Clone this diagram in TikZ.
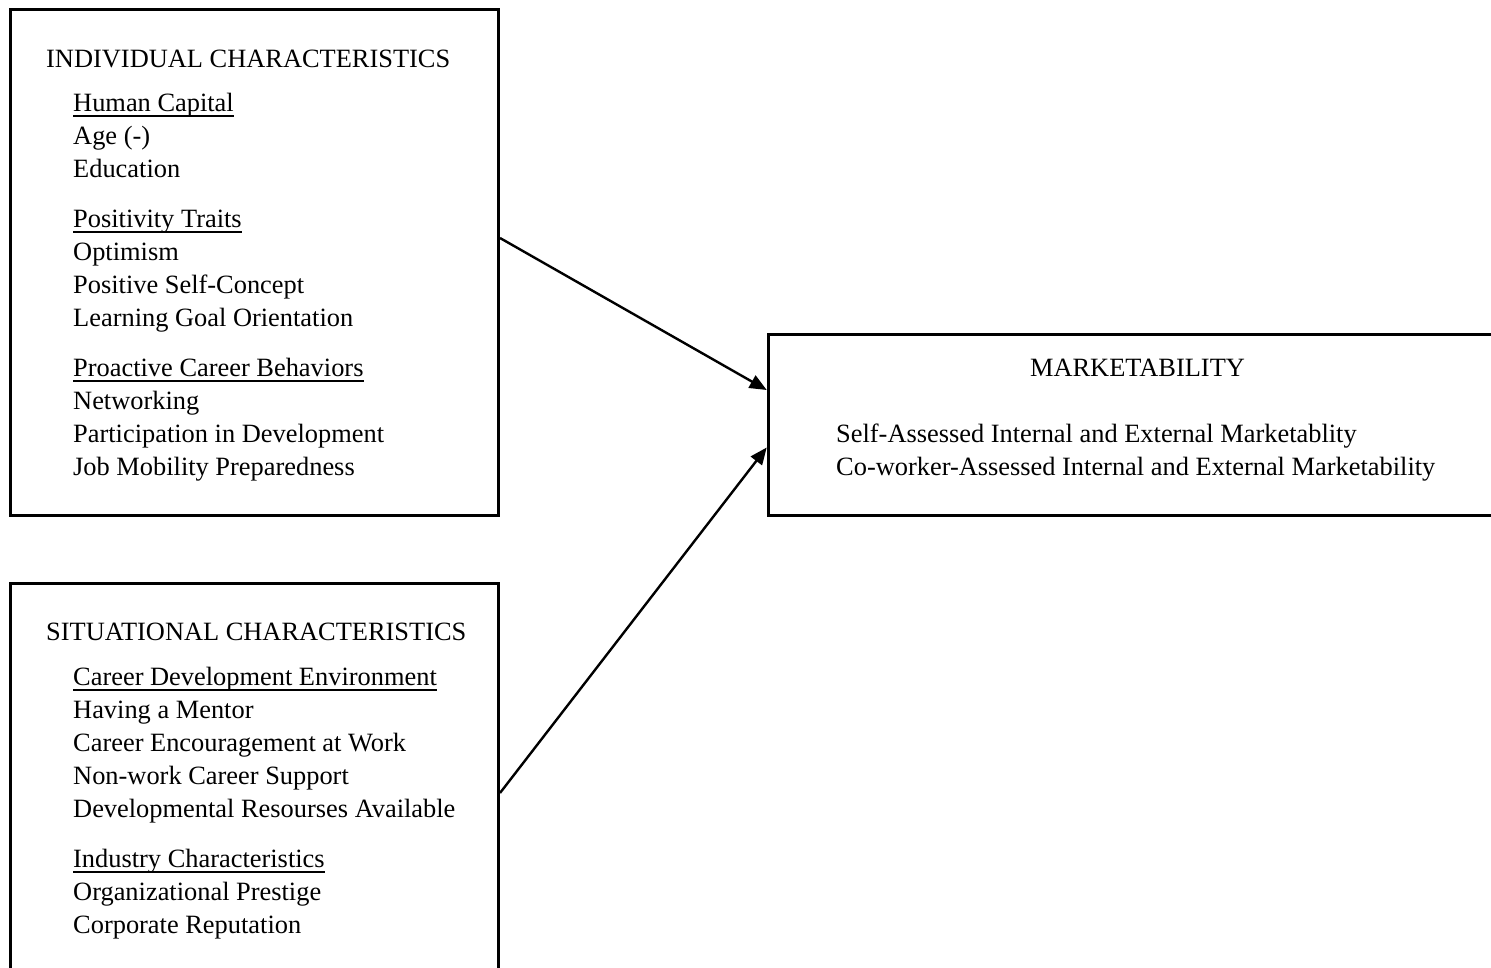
\documentclass[tikz,border=0pt]{standalone}
\usepackage{fontspec}
\setmainfont{Liberation Serif}
\usetikzlibrary{arrows.meta}

\begin{document}
\begin{tikzpicture}[x=1pt, y=-1pt,
    boxline/.style={draw=black, line width=3pt, minimum width=488pt, anchor=north west, inner sep=0pt},
    itemtext/.style={anchor=base west, inner sep=0pt, font=\fontsize{26.4}{33.1}\selectfont},
    uline/.style={line width=2pt},
    arrowline/.style={line width=2.4pt, -{Triangle[length=17pt, width=14pt]}}]

    % 描画範囲
    \useasboundingbox (0,0) rectangle (1491,968);
    \clip (0,0) rectangle (1491,968);

    % 枠（右と下ははみ出す）
    \node[boxline, minimum height=505.5pt] (indiv) at (9,8.5) {};
    \node[boxline, minimum height=420pt] (situ) at (9,581.5) {};
    \node[boxline, minimum width=750pt, minimum height=181.3pt] (mkt) at (766.7,332.7) {};

    % 個人特性
    \node[itemtext] (indivtitle) at (46,68) {INDIVIDUAL CHARACTERISTICS};
    \node[itemtext] (hc) at (73,111.5) {Human Capital};
    \foreach \txt [count=\i] in {{Age (-)}, Education}
        \node[itemtext] (hc-\i) at (73,{111.5+33.1*\i}) {\txt};
    \node[itemtext] (pt) at (73,227.4) {Positivity Traits};
    \foreach \txt [count=\i] in {Optimism, Positive Self-Concept, Learning Goal Orientation}
        \node[itemtext] (pt-\i) at (73,{227.4+33.1*\i}) {\txt};
    \node[itemtext] (pb) at (73,376.3) {Proactive Career Behaviors};
    \foreach \txt [count=\i] in {Networking, Participation in Development, Job Mobility Preparedness}
        \node[itemtext] (pb-\i) at (73,{376.3+33.1*\i}) {\txt};

    % 状況特性
    \node[itemtext] (situtitle) at (46,640) {SITUATIONAL CHARACTERISTICS};
    \node[itemtext] (cde) at (73,685) {Career Development Environment};
    \foreach \txt [count=\i] in {Having a Mentor, Career Encouragement at Work, Non-work Career Support, Developmental Resourses Available}
        \node[itemtext] (cde-\i) at (73,{685+33.1*\i}) {\txt};
    \node[itemtext] (ic) at (73,867) {Industry Characteristics};
    \foreach \txt [count=\i] in {Organizational Prestige, Corporate Reputation}
        \node[itemtext] (ic-\i) at (73,{867+33.1*\i}) {\txt};

    % 下線
    \foreach \h in {hc, pt, pb, cde, ic}
        \draw[uline] ([yshift=-4.5pt]\h.base west) -- ([yshift=-4.5pt]\h.base east);

    % 市場性
    \node[itemtext, anchor=base] (mkttitle) at (1137.5,376.3) {MARKETABILITY};
    \node[itemtext] (mkt-1) at (836,442.5) {Self-Assessed Internal and External Marketablity};
    \node[itemtext] (mkt-2) at (836,475.6) {Co-worker-Assessed Internal and External Marketability};

    % 矢印
    \draw[arrowline] ([yshift=24.75pt]indiv.east) -- ([yshift=34.85pt]mkt.west);
    \draw[arrowline] (situ.east) -- ([yshift=-22.65pt]mkt.west);

\end{tikzpicture}
\end{document}
